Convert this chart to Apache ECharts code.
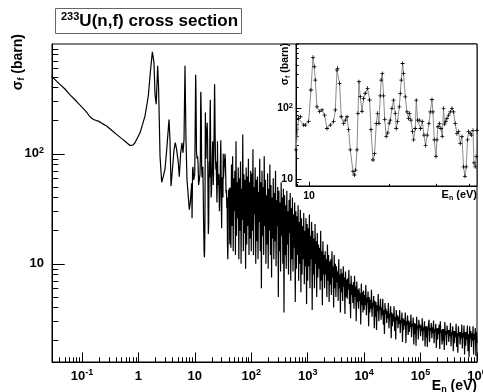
<!DOCTYPE html>
<html>
<head>
<meta charset="utf-8">
<script src="https://cdn.jsdelivr.net/npm/echarts@6/dist/echarts.min.js"></script>
<style>
html,body{margin:0;padding:0;background:#fff;}
#main{width:483px;height:392px;}
</style>
</head>
<body>
<div id="main"></div>
<script>
// 233U(n,f) cross section, E in eV, sigma in barn

// thermal + first resonances (main plot only)
var lowE = [0.029,0.04,0.05,0.061,0.08,0.1,0.12,0.139,0.16,0.195,
            0.23,0.274,0.34,0.41,0.5,0.58,0.71,0.8,0.87,1.07,
            1.31,1.5,1.65,1.77,1.89,1.97,2.07,2.2,2.28,2.35,
            2.42,2.59,2.76,2.96,3.18,3.49,3.63,3.79,4.06,4.28,
            4.51,4.77,5.1,5.31,5.62,5.93,6.18,6.44,6.7,6.98,
            7.27,7.67,7.99,8.32,8.81];
var lowS = [505,432,388,345,300,265,240,217,205,198,
            188,179,163,150,138,130,119,120,126,155,
            220,335,588,843,675,350,282,630,400,200,
            95,55,62,72,109,205,135,51,77,109,
            126,109,83,62,102,126,102,135,630,135,
            58,41,31,36,54];

// 9 - 43 eV (inset, also part of the main curve)
var insetE = [8.94,9.14,9.28,9.55,9.69,9.97,10.17,10.35,10.47,10.56,
              10.71,10.96,11.19,11.44,11.68,12.02,12.36,12.55,12.73,12.8,
              13.02,13.21,13.48,13.68,13.88,14.07,14.28,14.62,14.79,14.95,
              15.13,15.26,15.39,15.56,15.8,16.02,16.25,16.58,16.87,17.07,
              17.37,17.61,17.87,18.07,18.29,18.49,18.64,18.82,19.03,19.22,
              19.47,19.73,19.98,20.16,20.46,20.74,21.05,21.23,21.47,21.79,
              21.98,22.17,22.42,22.61,22.95,23.28,23.6,23.81,24.1,24.43,
              24.65,25.01,25.23,25.51,25.89,26.18,26.57,26.96,27.33,27.73,
              28.14,28.46,28.88,29.13,29.46,29.9,30.16,30.42,30.84,31.22,
              31.57,31.92,32.2,32.53,32.87,33.33,33.82,34.32,34.8,35.31,
              35.83,36.33,36.87,37.41,37.93,38.39,38.82,39.26,39.61,40.19,
              40.64,41.14,41.5,41.96,42.33,42.59];
var insetS = [26,72,76,58,58,65,181,523,385,250,
              105,90,95,80,52,58,65,95,346,366,
              225,76,61,68,76,50,26,12.8,11.5,13.5,
              26,85,237,146,90,138,163,191,131,50,
              18.7,23,61,85,61,150,250,310,150,70,
              40,45,62,68,100,130,85,52,65,105,
              162,250,428,310,145,89,72,85,68,47,
              36,52,130,68,68,52,65,42,30,42,
              61,89,133,89,36,21,36,55,61,52,
              40,100,60,65,72,80,89,100,89,61,
              44,47,32,40,15,11,15,36,47,44,
              42,49,17,15,21,49];

// 43 - 100 eV
var hiE1 = [43.65,44.67,45.71,46.77,47.86,48.98,50.12,51.29,52.48,53.7,
            54.95,56.23,57.54,58.88,60.26,61.66,63.1,64.57,66.07,67.61,
            69.18,70.79,72.44,74.13,75.86,77.62,79.43,81.28,83.18,85.11,
            87.1,89.13,91.2,93.33,95.5,97.72];
var hiS1 = [14,80,22,95,13,60,30,70,12,130,
            18,55,26,75,11,60,20,85,10,48,
            25,150,13,65,19,58,9,75,15,62,
            22,90,12,55,17,70];
// 100 eV - 1 keV
var hiE2 = [100,102.3,104.7,107.2,109.6,112.2,114.8,117.5,120.2,123,
            125.9,128.8,131.8,134.9,138,141.3,144.5,147.9,151.4,154.9,
            158.5,162.2,166,169.8,173.8,177.8,182,186.2,190.5,195,
            199.5,204.2,208.9,213.8,218.8,223.9,229.1,234.4,239.9,245.5,
            251.2,257,263,269.2,275.4,281.8,288.4,295.1,302,309,
            316.2,323.6,331.1,338.8,346.7,354.8,363.1,371.5,380.2,389,
            398.1,407.4,416.9,426.6,436.5,446.7,457.1,467.7,478.6,489.8,
            501.2,512.9,524.8,537,549.5,562.3,575.4,588.8,602.6,616.6,
            631,645.7,660.7,676.1,691.8,707.9,724.4,741.3,758.6,776.2,
            794.3,812.8,831.8,851.1,871,891.3,912,933.3,955,977.2];
var hiS2 = [13,66,20,110,12,50,28,75,10,58,
            16,62,11,45,24,90,13,55,6,70,
            18,50,12,95,22,58,10,42,15,66,
            9,48,20,80,12,52,7.5,40,17,60,
            11,44,16,70,9.5,38,22,50,5,46,
            13,36,8.5,55,18,40,10,48,3.6,42,
            12,34,9,46,15,30,8,38,19,44,
            7,32,11,40,8.5,28,14,36,4.5,30,
            9,27,12,34,7,24,10,31,5.5,26,
            8,22,11,29,6.5,20,9.5,26,4.3,23];
// 1 - 10 keV
var hiE3 = [1000,1023,1047,1072,1096,1122,1148,1175,1202,1230,
            1259,1288,1318,1349,1380,1413,1445,1479,1514,1549,
            1585,1622,1660,1698,1738,1778,1820,1862,1905,1950,
            1995,2042,2089,2138,2188,2239,2291,2344,2399,2455,
            2512,2570,2630,2692,2754,2818,2884,2951,3020,3090,
            3162,3236,3311,3388,3467,3548,3631,3715,3802,3890,
            3981,4074,4169,4266,4365,4467,4571,4677,4786,4898,
            5012,5129,5248,5370,5495,5623,5754,5888,6026,6166,
            6310,6457,6607,6761,6918,7079,7244,7413,7586,7762,
            7943,8128,8318,8511,8710,8913,9120,9333,9550,9772];
var hiS3 = [7,21,9.5,28,6,18,11,24,3.8,20,
            8,17,6,23,10,16,5,19,7.5,15,
            9,14,5.8,20,7,13,4.2,16,8,12,
            6,13,8,11,5,15,7,12,4.5,10.5,
            6.5,11,5.2,13,7.5,9.5,4,12,6,10,
            5,9.5,6.8,8.5,4.6,11,6,8,3.6,9,
            5.5,8.2,4.6,9.5,6.2,7.5,3.5,8.5,5,7.2,
            4.8,7.4,5.8,8.8,4.3,6.6,3.2,7.8,5.2,6.4,
            4.4,6.8,3.9,7.8,5,6.2,3.0,6.9,4.5,5.8,
            3.9,6,4.6,5.4,2.8,6.6,4.2,5.5,3.6,5.7];
// 10 - 100 keV
var hiE4 = [1e4,1.023e4,1.047e4,1.072e4,1.096e4,1.122e4,1.148e4,1.175e4,1.202e4,1.23e4,
            1.259e4,1.288e4,1.318e4,1.349e4,1.38e4,1.413e4,1.445e4,1.479e4,1.514e4,1.549e4,
            1.585e4,1.622e4,1.66e4,1.698e4,1.738e4,1.778e4,1.82e4,1.862e4,1.905e4,1.95e4,
            1.995e4,2.042e4,2.089e4,2.138e4,2.188e4,2.239e4,2.291e4,2.344e4,2.399e4,2.455e4,
            2.512e4,2.57e4,2.63e4,2.692e4,2.754e4,2.818e4,2.884e4,2.951e4,3.02e4,3.09e4,
            3.162e4,3.236e4,3.311e4,3.388e4,3.467e4,3.548e4,3.631e4,3.715e4,3.802e4,3.89e4,
            3.981e4,4.074e4,4.169e4,4.266e4,4.365e4,4.467e4,4.571e4,4.677e4,4.786e4,4.898e4,
            5.012e4,5.129e4,5.248e4,5.37e4,5.495e4,5.623e4,5.754e4,5.888e4,6.026e4,6.166e4,
            6.31e4,6.457e4,6.607e4,6.761e4,6.918e4,7.079e4,7.244e4,7.413e4,7.586e4,7.762e4,
            7.943e4,8.128e4,8.318e4,8.511e4,8.71e4,8.913e4,9.12e4,9.333e4,9.55e4,9.772e4];
var hiS4 = [3.8,5.2,4.2,6.4,3.4,4.9,4.4,5.6,2.7,5.0,
            3.6,4.7,3.9,5.8,3.3,4.4,4.1,5.1,2.6,4.6,
            3.3,4.5,2.5,4.2,3.7,5.3,3.0,4.1,3.8,4.8,
            3.1,4.0,3.4,4.8,2.8,3.8,2.3,4.4,3.5,3.9,
            2.9,3.7,3.2,4.4,2.6,3.5,3.3,4.1,2.1,3.6,
            2.7,3.5,3.0,4.1,2.45,3.3,2.05,3.8,3.05,3.4,
            2.6,3.3,2.85,3.8,2.35,3.1,2.9,3.6,1.95,3.2,
            2.5,3.1,2.75,3.6,1.9,3.0,2.8,3.4,2.25,3.05,
            2.4,2.95,2.65,3.45,2.15,2.85,2.7,3.25,1.85,2.9,
            2.3,2.85,1.8,3.3,2.55,2.75,2.05,3.1,2.6,2.8];
// 100 keV - 1 MeV
var hiE5 = [1e5,1.023e5,1.047e5,1.072e5,1.096e5,1.122e5,1.148e5,1.175e5,1.202e5,1.23e5,
            1.259e5,1.288e5,1.318e5,1.349e5,1.38e5,1.413e5,1.445e5,1.479e5,1.514e5,1.549e5,
            1.585e5,1.622e5,1.66e5,1.698e5,1.738e5,1.778e5,1.82e5,1.862e5,1.905e5,1.95e5,
            1.995e5,2.042e5,2.089e5,2.138e5,2.188e5,2.239e5,2.291e5,2.344e5,2.399e5,2.455e5,
            2.512e5,2.57e5,2.63e5,2.692e5,2.754e5,2.818e5,2.884e5,2.951e5,3.02e5,3.09e5,
            3.162e5,3.236e5,3.311e5,3.388e5,3.467e5,3.548e5,3.631e5,3.715e5,3.802e5,3.89e5,
            3.981e5,4.074e5,4.169e5,4.266e5,4.365e5,4.467e5,4.571e5,4.677e5,4.786e5,4.898e5,
            5.012e5,5.129e5,5.248e5,5.37e5,5.495e5,5.623e5,5.754e5,5.888e5,6.026e5,6.166e5,
            6.31e5,6.457e5,6.607e5,6.761e5,6.918e5,7.079e5,7.244e5,7.413e5,7.586e5,7.762e5,
            7.943e5,8.128e5,8.318e5,8.511e5,8.71e5,8.913e5,9.12e5,9.333e5,9.55e5,9.772e5,
            1e6];
var hiS5 = [2.2,2.75,2.45,3.2,2.0,2.65,2.5,3.0,1.77,2.7,
            2.15,2.7,1.75,2.5,2.4,3.1,1.95,2.6,2.45,2.9,
            2.1,2.65,2.35,3.05,1.9,2.55,2.4,2.85,1.72,2.6,
            2.05,2.6,2.3,2.8,1.68,3.0,2.35,2.5,1.85,2.55,
            2.0,2.55,1.65,2.95,2.25,2.45,1.82,2.75,2.3,2.5,
            1.95,2.5,2.2,2.9,1.78,2.4,2.25,2.7,1.6,2.45,
            1.9,2.45,2.15,2.85,1.75,2.35,1.55,2.7,2.2,2.4,
            1.85,2.4,2.1,2.8,1.7,2.35,2.15,2.75,1.5,2.4,
            1.8,2.4,2.05,2.75,1.6,2.3,1.42,2.7,2.1,2.45,
            1.75,2.35,2.0,2.7,1.5,2.3,2.05,2.6,1.45,2.4,
            1.9];

// axis ranges (eV / barn) and labelled decades
var mainXRange = [0.0295, 1e6];
var mainYRange = [1.28, 995];
var insetXRange = [8.94, 42.6];
var insetYRange = [8.05, 805];
var mainXDecades = [0.1, 1, 10, 100, 1e3, 1e4, 1e5, 1e6];
var mainYDecades = [10, 100];
var insetXDecades = [10];
var insetYDecades = [10, 100];
var minorMant = [2, 3, 4, 5, 6, 7, 8, 9];

var FONT = 'Liberation Sans, Arial, Helvetica, sans-serif';

function lg(v) { return Math.log10(v); }
function toLog(E, S) {
    var d = [];
    for (var i = 0; i < Math.min(E.length, S.length); i++) d.push([lg(E[i]), lg(S[i])]);
    return d;
}
// minor tick positions (2..9 x 10^n) inside a log10 range
function minors(lo, hi) {
    var out = [];
    for (var d = Math.floor(lo) - 1; d <= Math.ceil(hi); d++) {
        minorMant.forEach(function (m) {
            var v = d + lg(m);
            if (v >= lo && v <= hi) out.push(v);
        });
    }
    return out;
}
function decLabel(v) {
    var n = Math.round(v);
    if (n === 0) return '{b|1}';
    if (n === 1) return '{b|10}';
    return '{b|10}{s|' + n + '}';
}

var mainData = toLog(lowE.concat(insetE, hiE1, hiE2, hiE3, hiE4, hiE5),
                     lowS.concat(insetS, hiS1, hiS2, hiS3, hiS4, hiS5));
var insetData = toLog(insetE, insetS);

var richMain = {
    b: { fontSize: 13, fontWeight: 'bold', fontFamily: FONT, color: '#000', lineHeight: 16 },
    s: { fontSize: 9, fontWeight: 'bold', fontFamily: FONT, color: '#000', lineHeight: 9, verticalAlign: 'top' }
};
var richInset = {
    b: { fontSize: 10.5, fontWeight: 'bold', fontFamily: FONT, color: '#000', lineHeight: 13 },
    s: { fontSize: 7.5, fontWeight: 'bold', fontFamily: FONT, color: '#000', lineHeight: 7, verticalAlign: 'top' }
};

// one labelled axis (major ticks) + one overlay axis (minor ticks)
function axisPair(dim, grid, range, decades, majorLen, rich, margin, zl) {
    var lo = lg(range[0]), hi = lg(range[1]);
    var pos = dim === 'x' ? 'bottom' : 'left';
    var major = decades.map(lg);
    return [{
        type: 'value', gridIndex: grid, min: lo, max: hi, position: pos, zlevel: zl, z: 3,
        axisLine: { show: true, onZero: false, lineStyle: { color: '#000', width: 1 } },
        axisTick: { show: true, inside: true, length: majorLen, customValues: major, lineStyle: { color: '#000' } },
        axisLabel: { show: true, customValues: major, formatter: decLabel, rich: rich, margin: margin },
        splitLine: { show: false }
    }, {
        type: 'value', gridIndex: grid, min: lo, max: hi, position: pos, zlevel: zl, z: 3,
        axisLine: { show: false, onZero: false },
        axisTick: { show: true, inside: true, length: majorLen / 2, customValues: minors(lo, hi), lineStyle: { color: '#000' } },
        axisLabel: { show: false },
        splitLine: { show: false }
    }];
}

var mx = axisPair('x', 0, mainXRange, mainXDecades, 9.5, richMain, 6, 0);
var my = axisPair('y', 0, mainYRange, mainYDecades, 12.7, richMain, 8, 0);
var ix = axisPair('x', 1, insetXRange, insetXDecades, 4.3, richInset, 4, 1);
var iy = axisPair('y', 1, insetYRange, insetYDecades, 5.4, richInset, 3, 1);

var chart = echarts.init(document.getElementById('main'));
var option = {
    animation: false,
    backgroundColor: '#fff',
    textStyle: { fontFamily: FONT },
    grid: [
        { left: 52, top: 44, width: 425, height: 318, show: true, borderColor: '#000', borderWidth: 1,
          backgroundColor: 'transparent', containLabel: false, outerBoundsMode: 'none' },
        { left: 296, top: 44, width: 181, height: 142, show: true, borderColor: '#000', borderWidth: 1,
          backgroundColor: '#fff', containLabel: false, outerBoundsMode: 'none', zlevel: 1 }
    ],
    xAxis: mx.concat(ix),
    yAxis: my.concat(iy),
    series: [{
        type: 'line', xAxisIndex: 0, yAxisIndex: 0, data: mainData,
        symbol: 'none', showSymbol: false, clip: true,
        lineStyle: { color: '#000', width: 1.2 }, z: 2
    }, {
        type: 'line', xAxisIndex: 2, yAxisIndex: 2, data: insetData, zlevel: 1, z: 4,
        symbol: 'path://M2,0H3V2H5V3H3V5H2V3H0V2H2Z', symbolSize: 4, showAllSymbol: true, clip: true,
        itemStyle: { color: '#000' },
        lineStyle: { color: '#8c8c8c', width: 1 }
    }],
    graphic: [
        { type: 'rect', shape: { x: 55.5, y: 8.5, width: 186, height: 25 },
          style: { fill: '#fff', stroke: '#666', lineWidth: 1 } },
        { type: 'text', x: 61, y: 21,
          style: { text: '{sup|233}{t|U(n,f) cross section}', align: 'left', verticalAlign: 'middle',
                   rich: { sup: { fontSize: 11, fontWeight: 'bold', fontFamily: FONT, fill: '#000', lineHeight: 11, verticalAlign: 'top' },
                           t: { fontSize: 17, fontWeight: 'bold', fontFamily: FONT, fill: '#000', lineHeight: 20 } } } },
        { type: 'text', x: 18, y: 34, rotation: Math.PI / 2,
          style: { text: '{g|σ}{f|f}{g| (barn)}', align: 'right', verticalAlign: 'middle',
                   rich: { g: { fontSize: 14, fontWeight: 'bold', fontFamily: FONT, fill: '#000', lineHeight: 17 },
                           f: { fontSize: 9, fontWeight: 'bold', fontFamily: FONT, fill: '#000', lineHeight: 9, verticalAlign: 'bottom' } } } },
        { type: 'text', x: 477, y: 386,
          style: { text: '{g|E}{n|n}{g| (eV)}', align: 'right', verticalAlign: 'middle',
                   rich: { g: { fontSize: 14, fontWeight: 'bold', fontFamily: FONT, fill: '#000', lineHeight: 17 },
                           n: { fontSize: 9, fontWeight: 'bold', fontFamily: FONT, fill: '#000', lineHeight: 9, verticalAlign: 'bottom' } } } },
        { type: 'text', x: 285, y: 43, rotation: Math.PI / 2, zlevel: 1,
          style: { text: '{g|σ}{f|f}{g| (barn)}', align: 'right', verticalAlign: 'middle',
                   rich: { g: { fontSize: 10.5, fontWeight: 'bold', fontFamily: FONT, fill: '#000', lineHeight: 13 },
                           f: { fontSize: 7, fontWeight: 'bold', fontFamily: FONT, fill: '#000', lineHeight: 7, verticalAlign: 'bottom' } } } },
        { type: 'text', x: 477, y: 195, zlevel: 1,
          style: { text: '{g|E}{n|n}{g| (eV)}', align: 'right', verticalAlign: 'middle',
                   rich: { g: { fontSize: 11, fontWeight: 'bold', fontFamily: FONT, fill: '#000', lineHeight: 13 },
                           n: { fontSize: 7, fontWeight: 'bold', fontFamily: FONT, fill: '#000', lineHeight: 7, verticalAlign: 'bottom' } } } }
    ]
};
chart.setOption(option);
window.addEventListener('resize', function () { chart.resize(); });
</script>
</body>
</html>
